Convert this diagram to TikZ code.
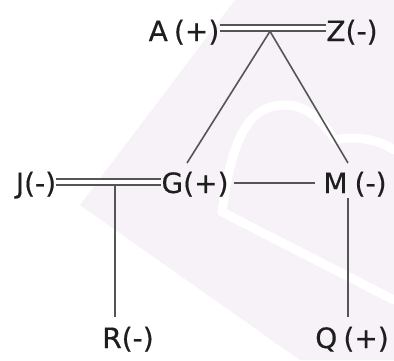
\documentclass[tikz,border=0pt]{standalone}
\usepackage{fontspec}
\setmainfont{DejaVu Sans}
\newfontfamily\lblfont{DejaVu Sans}[FakeBold=0.5]
\usetikzlibrary{calc}
\definecolor{wm}{HTML}{F7F1F8}
\definecolor{ln}{HTML}{555555}
\definecolor{tx}{HTML}{1E1E1E}
\begin{document}
\begin{tikzpicture}[x=1pt,y=-1pt,
  lbl/.style={anchor=base,inner sep=0pt,text=tx,font=\fontsize{28}{30}\lblfont},
  conn/.style={draw=ln,line width=1.6pt},
  dbl/.style={draw=ln,line width=1.4pt,double=white,double distance=4.6pt}]
\useasboundingbox (0,0) rectangle (394,360);
\fill[white] (0,0) rectangle (394,360);
% faint watermark
\fill[wm] (235,0) -- (394,0) -- (394,360) -- (300,360) -- (80,205) -- cycle;
\draw[white,line width=9pt,line cap=round,line join=round]
  (394,300) -- (222,212) .. controls (232,135) and (250,105) .. (285,105)
  .. controls (310,105) and (325,125) .. (335,140) .. controls (355,135) and (380,140) .. (394,150);
% labels
\node[lbl] (A) at (184,41) {A\hspace{0.22em}(+)};
\node[lbl] (Z) at (352,41) {Z(-)};
\node[lbl] (J) at (36,193) {J(-)};
\node[lbl] (G) at (195,193) {G(+)};
\node[lbl] (M) at (355,193) {M\hspace{0.25em}(-)};
\node[lbl] (R) at (128,348) {R(-)};
\node[lbl] (Q) at (352,348) {Q\hspace{0.22em}(+)};
% junction coordinates
\coordinate (az) at (270,28);
\coordinate (azb) at (270,31.3);
\coordinate (jg) at (115,182);
\coordinate (jgb) at (115,185.3);
% connectors
\draw[dbl] (A.east |- az) -- (Z.west |- az);
\draw[conn] (azb) -- ($(G.base)+(-8,-30)$);
\draw[conn] (azb) -- ($(M.base)+(-7,-30)$);
\draw[dbl] (J.east |- jg) -- (G.west |- jg);
\draw[conn] (jgb) -- ($(R.base)+(-13,-31)$);
\draw[conn,shorten <=5pt,shorten >=8pt] (G.east |- 0,183) -- (M.west |- 0,183);
\draw[conn] ($(M.base)+(-7,5)$) -- ($(Q.base)+(-4,-31)$);
\end{tikzpicture}
\end{document}
